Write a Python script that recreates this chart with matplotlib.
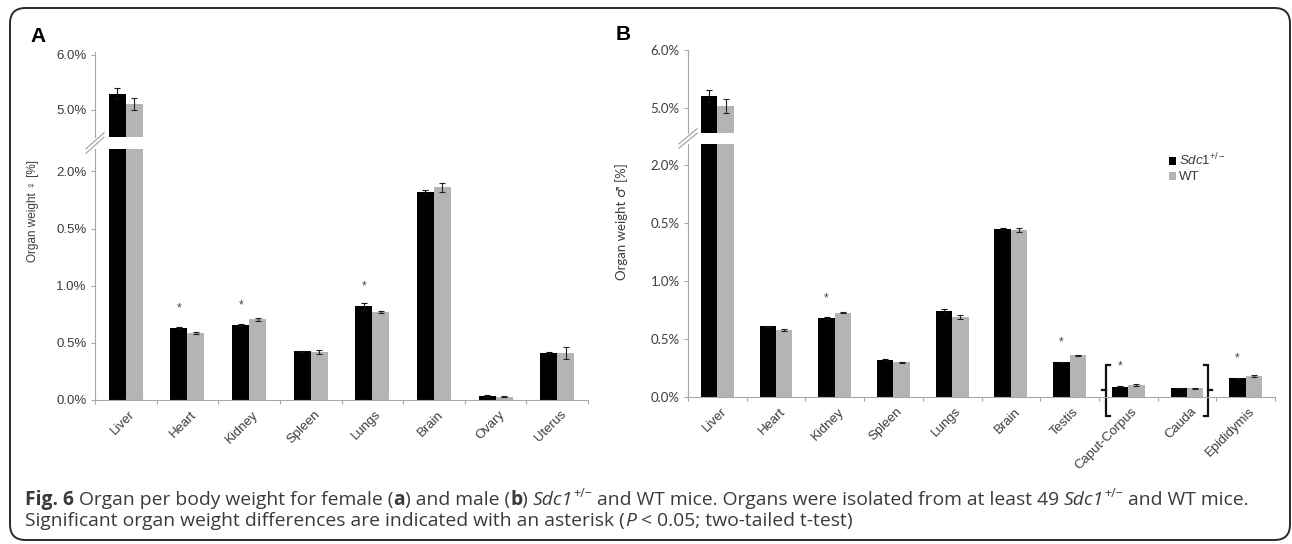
import numpy as np
import matplotlib
matplotlib.use("Agg")
import matplotlib.pyplot as plt
from matplotlib.patches import Patch, FancyBboxPatch
from matplotlib.lines import Line2D
import matplotlib.transforms as mtransforms

plt.rcParams['mathtext.fontset'] = 'custom'
plt.rcParams['mathtext.it'] = 'Liberation Sans:italic'
plt.rcParams['mathtext.rm'] = 'Liberation Sans'
plt.rcParams['mathtext.bf'] = 'Liberation Sans:bold'

# ---------------- data ----------------
organs_f = ['Liver', 'Heart', 'Kidney', 'Spleen', 'Lungs', 'Brain', 'Ovary', 'Uterus']
sdc1_f = [5.29, 0.63, 0.655, 0.425, 0.82, 1.82, 0.035, 0.41]
wt_f = [5.11, 0.587, 0.705, 0.42, 0.77, 1.86, 0.03, 0.41]
sdc1_f_err = [0.10, 0.01, 0.01, 0.005, 0.03, 0.02, 0.005, 0.01]
wt_f_err = [0.11, 0.01, 0.01, 0.015, 0.01, 0.04, 0.005, 0.05]
sig_f = [False, True, True, False, True, False, False, False]

organs_m = ['Liver', 'Heart', 'Kidney', 'Spleen', 'Lungs', 'Brain', 'Testis',
            'Caput-Corpus', 'Cauda', 'Epididymis']
sdc1_m = [5.21, 0.61, 0.68, 0.32, 0.74, 1.45, 0.30, 0.09, 0.075, 0.16]
wt_m = [5.03, 0.58, 0.727, 0.30, 0.69, 1.44, 0.36, 0.10, 0.075, 0.18]
sdc1_m_err = [0.10, 0.005, 0.01, 0.01, 0.02, 0.01, 0.005, 0.005, 0.003, 0.005]
wt_m_err = [0.12, 0.01, 0.005, 0.005, 0.02, 0.02, 0.005, 0.008, 0.004, 0.01]
sig_m = [False, False, True, False, False, False, True, True, False, True]

low_ticks = [0.0, 0.5, 1.0, 1.5, 2.0]
low_ticklabels = ['0.0%', '0.5%', '1.0%', '0.5%', '2.0%']
up_ticks = [5.0, 6.0]
up_ticklabels = ['5.0%', '6.0%']

legend_labels = [r'$\mathit{Sdc1}^{+/-}$', 'WT']

# ---------------- style ----------------
W, H = 1292, 544
BLACK = '#000000'
GREY = '#b4b4b4'
AXC = '#a8a8a8'
TXT = '#3c3c3c'

fig = plt.figure(figsize=(W / 100, H / 100), dpi=100)


def rect(l, r, t, b):
    return [l / W, 1 - b / H, (r - l) / W, (b - t) / H]


def panel(organs, s, w, se, we, sig, box_low, box_up, ylim_low, ylim_up,
          barw, tickfont, xfont, tfs, xfs):
    n = len(organs)
    x = np.arange(n)
    axl = fig.add_axes(box_low)
    axu = fig.add_axes(box_up)
    for ax in (axl, axu):
        ax.bar(x - barw / 2, s, barw, color=BLACK, zorder=2)
        ax.bar(x + barw / 2, w, barw, color=GREY, zorder=2)
        ax.errorbar(x - barw / 2, s, yerr=se, fmt='none', ecolor='#111111',
                    elinewidth=0.8, capsize=2.2, capthick=0.8, zorder=3)
        ax.errorbar(x + barw / 2, w, yerr=we, fmt='none', ecolor='#222222',
                    elinewidth=0.8, capsize=2.2, capthick=0.8, zorder=3)
        ax.set_xlim(-0.5, n - 0.5)
        for sp in ('top', 'right'):
            ax.spines[sp].set_visible(False)
        ax.spines['left'].set_color(AXC)
        ax.spines['bottom'].set_color(AXC)
        ax.tick_params(axis='y', colors=AXC, labelcolor=TXT, length=3,
                       width=0.8, labelsize=tfs, pad=3)
    axl.set_ylim(*ylim_low)
    axu.set_ylim(*ylim_up)
    axl.set_yticks(low_ticks)
    axl.set_yticklabels(low_ticklabels, family=tickfont, fontsize=tfs, color=TXT)
    axu.set_yticks(up_ticks)
    axu.set_yticklabels(up_ticklabels, family=tickfont, fontsize=tfs, color=TXT)
    axu.spines['bottom'].set_visible(False)
    axu.set_xticks([])
    axl.set_xticks(np.arange(n + 1) - 0.5)
    axl.set_xticklabels([])
    axl.tick_params(axis='x', which='major', colors=AXC, length=3, width=0.8)
    axl.set_xticks(x, minor=True)
    axl.set_xticklabels(organs, minor=True, rotation=45, ha='right',
                        va='top', rotation_mode='anchor', family=xfont,
                        fontsize=xfs, color=TXT)
    axl.tick_params(axis='x', which='minor', length=0, pad=6)
    off = mtransforms.ScaledTranslation(3 / 100, 0, fig.dpi_scale_trans)
    for lab in axl.get_xticklabels(minor=True):
        lab.set_transform(lab.get_transform() + off)
    # significance asterisks
    for i in range(n):
        if sig[i]:
            axl.text(x[i] - barw / 2, s[i] + 0.17, '*', ha='center',
                     va='center', fontsize=8.5, color='#444444',
                     family='Liberation Sans')
    # break marks on the y axis
    pl = axl.get_position()
    pu = axu.get_position()
    xs = pl.x0
    yb = pl.y1
    yt = pu.y0
    dx = 9 / W
    for k in (-2.2, 2.2):
        fig.add_artist(Line2D([xs - dx, xs + dx],
                              [yb - 2 / H + k / H, yt + 2 / H + k / H],
                              color=AXC, lw=0.9, transform=fig.transFigure))
    return axl, axu


# Panel A
axAl, axAu = panel(organs_f, sdc1_f, wt_f, sdc1_f_err, wt_f_err, sig_f,
                   rect(95, 588, 149, 400), rect(95, 588, 52, 137),
                   (0, 2.196), (4.5, 6.05), 0.275,
                   'Liberation Sans', 'Liberation Sans', 9.5, 9.5)
# Panel B
axBl, axBu = panel(organs_m, sdc1_m, wt_m, sdc1_m_err, wt_m_err, sig_m,
                   rect(688, 1275, 144, 397), rect(688, 1275, 50, 133),
                   (0, 2.18), (4.569, 6.0), 0.28,
                   'Lato', 'Liberation Sans', 9.5, 9.5)

# brackets around Caput-Corpus and Cauda (panel B)
for xb, d in ((6.62, 1), (8.36, -1)):
    serif = 0.07
    axBl.add_line(Line2D([xb + d * serif, xb, xb, xb + d * serif],
                         [0.28, 0.28, -0.16, -0.16], color='#111111', lw=1.6,
                         clip_on=False, solid_joinstyle='miter'))
    axBl.add_line(Line2D([xb, xb - d * 0.06], [0.06, 0.06], color='#111111',
                         lw=1.6, clip_on=False))

# y labels
fig.text(33 / W, 1 - 211 / H, 'Organ weight \u2640 [%]', rotation=90,
         ha='center', va='center', fontsize=8.5,
         family=['Liberation Sans', 'DejaVu Sans'], color=TXT)
fig.text(622 / W, 1 - 222 / H, 'Organ weight \u2642 [%]', rotation=90,
         ha='center', va='center', fontsize=9.5,
         family=['Lato', 'DejaVu Sans'], color=TXT)

# panel letters
fig.text(38 / W, 1 - 36 / H, 'A', ha='center', va='center', fontsize=15,
         fontweight='bold', family='Liberation Sans')
fig.text(623 / W, 1 - 35 / H, 'B', ha='center', va='center', fontsize=15,
         fontweight='bold', family='Liberation Sans')

# legend
handles = [Patch(facecolor=BLACK, edgecolor='none'),
           Patch(facecolor=GREY, edgecolor='none')]
leg = fig.legend(handles, legend_labels, loc='upper left',
                 bbox_to_anchor=(1162 / W, 1 - 145 / H), frameon=False,
                 handlelength=0.55, handleheight=0.55,
                 handletextpad=0.25, labelspacing=0.25, borderpad=0,
                 prop={'family': 'Liberation Sans', 'size': 9.5})
for t in leg.get_texts():
    t.set_color(TXT)

# outer rounded frame
fig.add_artist(FancyBboxPatch((10 / W, 1 - 540 / H), 1280 / W, 532 / H,
                              boxstyle='round,pad=0,rounding_size=0.012',
                              transform=fig.transFigure, fill=False,
                              edgecolor='#2a2a2a', lw=1.4,
                              mutation_aspect=W / H))

# caption with mixed styles
renderer = fig.canvas.get_renderer()
CAPF = 'Open Sans'
CAPS = 13.9


def seg_width(txt, **kw):
    t1 = fig.text(0, 0, '|' + txt + '|', **kw)
    t2 = fig.text(0, 0, '||', **kw)
    wdt = t1.get_window_extent(renderer).width - t2.get_window_extent(renderer).width
    t1.remove()
    t2.remove()
    return wdt


def draw_line(segs, x0, ybase):
    xpx = x0
    for txt, style in segs:
        kw = dict(family=CAPF, fontsize=CAPS, color='#3a3a3a')
        dy = 0
        if style == 'b':
            kw['fontweight'] = 'bold'
        elif style == 'i':
            kw['style'] = 'italic'
        elif style == 'sup':
            kw['fontsize'] = CAPS * 0.65
            dy = 8
        wdt = seg_width(txt, **kw)
        fig.text(xpx / W, 1 - (ybase - dy) / H, txt, ha='left', va='baseline', **kw)
        xpx += wdt


line1 = [('Fig. 6', 'b'), (' Organ per body weight for female (', 'n'), ('a', 'b'),
         (') and male (', 'n'), ('b', 'b'), (') ', 'n'), ('Sdc1', 'i'), ('+/\u2212', 'sup'),
         (' and WT mice. Organs were isolated from at least 49 ', 'n'), ('Sdc1', 'i'),
         ('+/\u2212', 'sup'), (' and WT mice.', 'n')]
line2 = [('Significant organ weight differences are indicated with an asterisk (', 'n'),
         ('P', 'i'), (' < 0.05; two-tailed t-test)', 'n')]
draw_line(line1, 25, 505)
draw_line(line2, 25, 526)

fig.savefig('out.png', dpi=100)
